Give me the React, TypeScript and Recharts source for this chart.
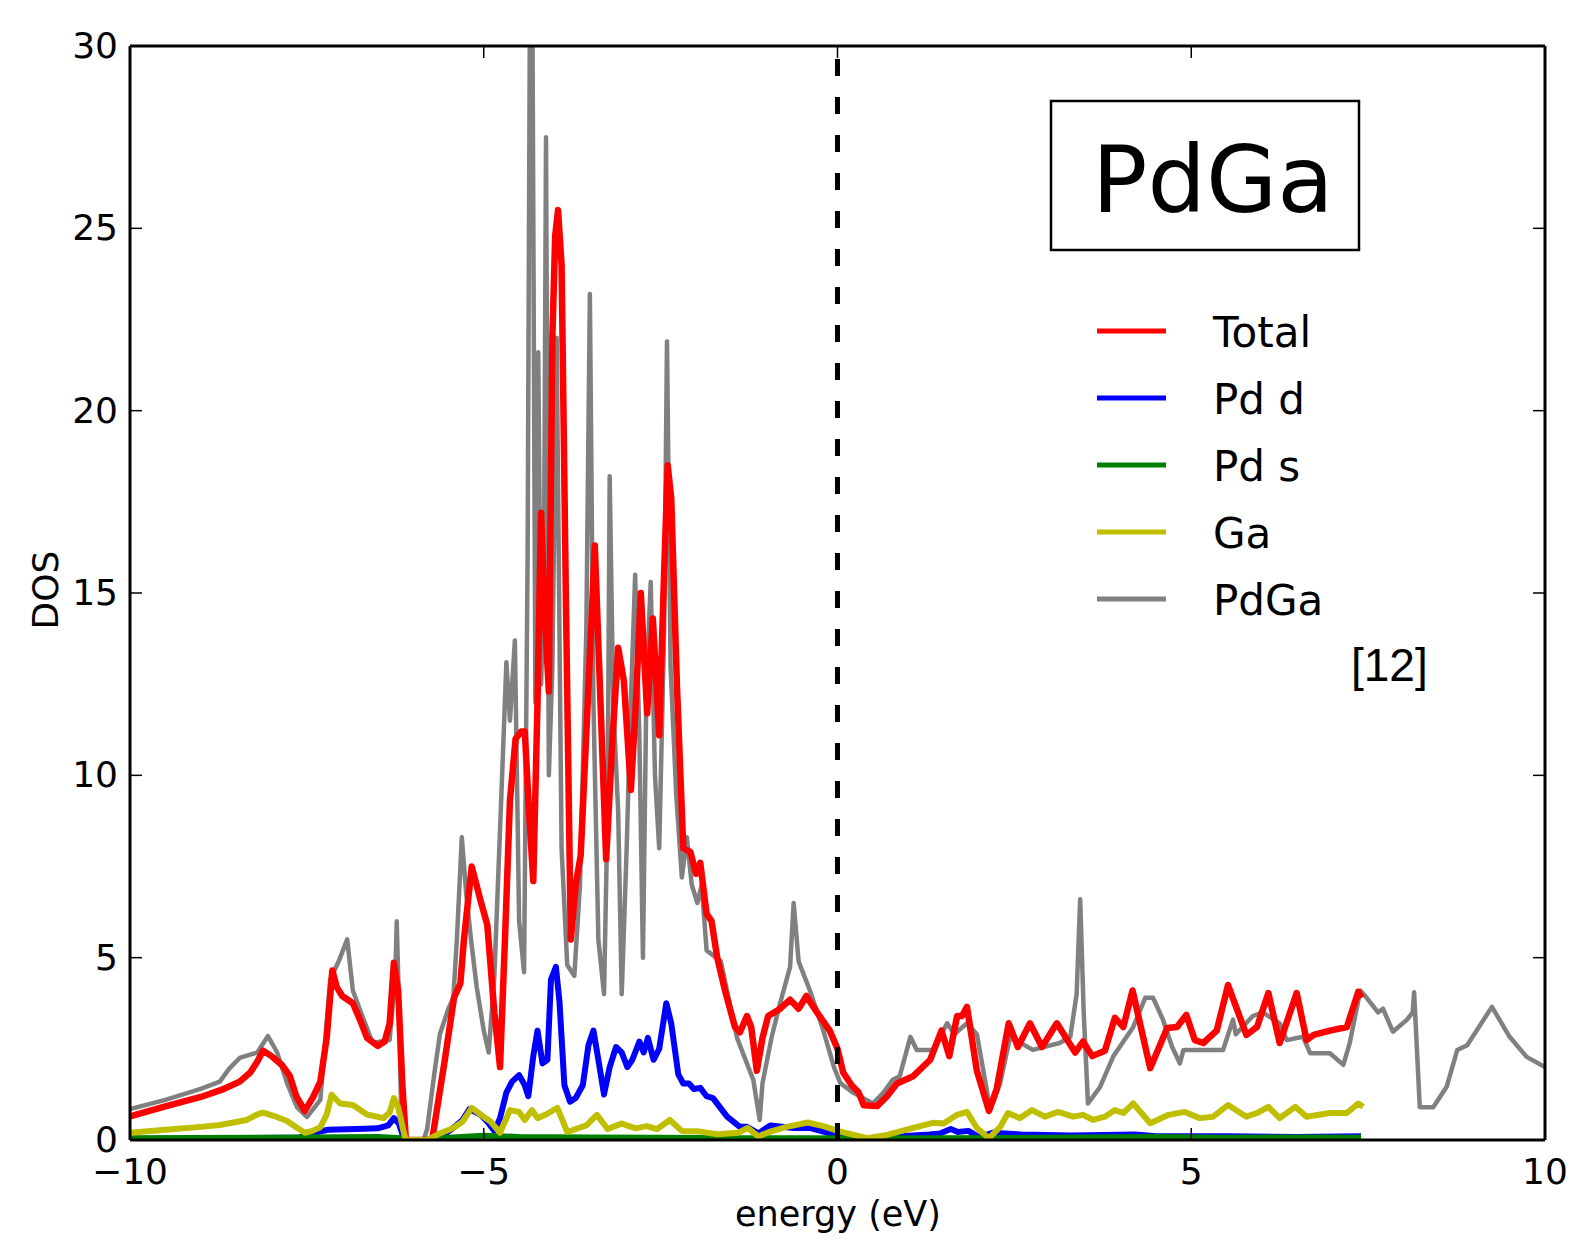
import { Line, LineChart, ReferenceLine, XAxis, YAxis } from "recharts";

const W = 1573;
const H = 1247;
const FONT = "'DejaVu Sans', sans-serif";

const xTicks = [-10, -5, 0, 5, 10];
const yTicks = [0, 5, 10, 15, 20, 25, 30];

// Total
const totalE = [
  -10, -9.5, -9, -8.7, -8.45, -8.3, -8.2, -8.12, -8.0, -7.85, -7.74, -7.65, -7.53, -7.42, -7.31, -7.22,
  -7.14, -7.08, -7.0, -6.85, -6.75, -6.65, -6.5, -6.4, -6.33, -6.27, -6.21, -6.15, -6.1, -5.73, -5.55,
  -5.42, -5.33, -5.28, -5.17, -5.05, -4.95, -4.85, -4.77, -4.7, -4.63, -4.55, -4.47, -4.42, -4.36, -4.3,
  -4.24, -4.19, -4.14, -4.08, -4.03, -3.99, -3.95, -3.9, -3.84, -3.77, -3.7, -3.63, -3.53, -3.43, -3.35,
  -3.27, -3.18, -3.1, -3.02, -2.92, -2.85, -2.78, -2.69, -2.61, -2.52, -2.46, -2.4, -2.35, -2.27, -2.18,
  -2.08, -2.0, -1.94, -1.85, -1.78, -1.7, -1.59, -1.45, -1.38, -1.28, -1.22, -1.14, -1.06, -0.98, -0.81,
  -0.67, -0.55, -0.44, -0.29, -0.11, 0, 0.08, 0.2, 0.3, 0.37, 0.56, 0.7, 0.84, 1.07, 1.31, 1.47, 1.58,
  1.69, 1.76, 1.83, 1.97, 2.14, 2.25, 2.42, 2.55, 2.72, 2.89, 3.1, 3.36, 3.47, 3.6, 3.78, 3.92, 4.04,
  4.17, 4.42, 4.66, 4.8, 4.93, 5.05, 5.17, 5.36, 5.52, 5.78, 5.93, 6.09, 6.25, 6.49, 6.63, 6.73, 6.96,
  7.2, 7.36, 7.41
];
const totalDos = [
  0.65, 0.92, 1.18, 1.38, 1.6, 1.85, 2.15, 2.45, 2.3, 2.05, 1.75, 1.2, 0.8, 1.15, 1.6, 2.8,
  4.65, 4.2, 3.95, 3.75, 3.3, 2.8, 2.58, 2.7, 3.2, 4.86, 4.1, 1.5, 0, 0, 2.2,
  3.9, 4.3, 5.5, 7.5, 6.6, 5.9, 3.5, 2.0, 5.5, 9.3, 11.0, 11.2, 11.2, 9.0, 7.1,
  12, 17.2, 14.5, 12.3, 22, 24.8, 25.5, 24.0, 15, 5.5, 7.0, 7.8, 12, 16.3, 12,
  7.7, 11, 13.5, 12.6, 9.6, 12, 15.0, 11.7, 14.3, 11.1, 15, 18.5, 17.6, 12.5, 8.0,
  7.9, 7.3, 7.6, 6.2, 6.0, 5.0, 4.1, 3.1, 2.95, 3.4, 3.1, 1.9, 2.8, 3.4, 3.6,
  3.85, 3.6, 3.95, 3.5, 3.0, 2.5, 1.85, 1.5, 1.3, 0.95, 0.93, 1.2, 1.55, 1.75, 2.2, 3.0, 2.3,
  3.4, 3.4, 3.65, 1.9, 0.8, 1.4, 3.2, 2.55, 3.2, 2.55, 3.2, 2.4, 2.7, 2.3, 2.45, 3.35, 3.1,
  4.1, 1.97, 3.07, 3.1, 3.43, 2.74, 2.66, 3.0, 4.25, 2.88, 3.1, 4.03, 2.66, 4.03, 2.74, 2.88, 3.0,
  3.1, 4.06, 3.9
];

// Pd d
const pdDE = [
  -10, -8.5, -7.6, -7.4, -7.2, -6.8, -6.5, -6.35, -6.27, -6.2, -6.12, -5.8, -5.6, -5.45, -5.3, -5.2,
  -5.05, -4.95, -4.85, -4.77, -4.68, -4.6, -4.5, -4.42, -4.37, -4.3, -4.24, -4.17, -4.1, -4.05, -3.98,
  -3.93, -3.86, -3.78, -3.7, -3.6, -3.52, -3.45, -3.38, -3.3, -3.22, -3.13, -3.05, -2.97, -2.9, -2.8,
  -2.74, -2.68, -2.6, -2.52, -2.42, -2.35, -2.25, -2.18, -2.1, -2.03, -1.94, -1.85, -1.76, -1.56, -1.38,
  -1.28, -1.12, -0.95, -0.62, -0.39, -0.15, 0, 0.4, 0.9, 1.3, 1.45, 1.6, 1.7, 1.85, 2.0, 2.2, 2.6, 3.3,
  4.2, 4.5, 5.5, 6.5, 7.4
];
const pdDDos = [
  0.03, 0.05, 0.07, 0.2, 0.28, 0.3, 0.32, 0.4, 0.6, 0.45, 0, 0, 0.1, 0.3, 0.55, 0.85,
  0.7, 0.5, 0.25, 0.6, 1.3, 1.6, 1.78, 1.5, 1.2, 2.3, 3.0, 2.1, 2.2, 4.4, 4.75,
  3.8, 1.5, 1.05, 1.15, 1.5, 2.6, 3.0, 2.2, 1.25, 2.0, 2.55, 2.4, 2.0, 2.2, 2.7,
  2.4, 2.8, 2.2, 2.5, 3.75, 3.2, 1.8, 1.55, 1.55, 1.4, 1.43, 1.2, 1.15, 0.64, 0.36,
  0.36, 0.18, 0.4, 0.33, 0.33, 0.2, 0.1, 0.05, 0.1, 0.15, 0.18, 0.3, 0.22, 0.25, 0.08, 0.2, 0.15, 0.12,
  0.15, 0.1, 0.1, 0.08, 0.1
];

// Pd s
const pdSE = [-10, -8, -6.5, -6.15, -6.1, -5.8, -5.5, -5.0, -4.5, -3.5, -2.5, -1.5, -0.5, 0.5, 1.5, 3, 4.5, 5.5, 6.5, 7.4];
const pdSDos = [0.05, 0.06, 0.08, 0.05, 0, 0, 0.06, 0.12, 0.08, 0.07, 0.06, 0.05, 0.05, 0.04, 0.05, 0.06, 0.08, 0.06, 0.07, 0.06];

// Ga
const gaE = [
  -10, -9.5, -9, -8.73, -8.35, -8.2, -8.12, -7.95, -7.78, -7.65, -7.53, -7.42, -7.31, -7.22, -7.15, -7.03,
  -6.85, -6.65, -6.42, -6.33, -6.27, -6.21, -6.13, -6.1, -5.8, -5.62, -5.43, -5.3, -5.17, -5.05, -4.9,
  -4.77, -4.63, -4.5, -4.42, -4.32, -4.24, -4.12, -3.96, -3.82, -3.55, -3.4, -3.25, -3.05, -2.85, -2.7,
  -2.55, -2.37, -2.2, -1.94, -1.7, -1.4, -1.27, -1.12, -0.95, -0.72, -0.42, -0.2, 0.04, 0.42, 0.7, 1.07,
  1.35, 1.5, 1.69, 1.83, 1.97, 2.14, 2.3, 2.41, 2.58, 2.75, 2.93, 3.12, 3.33, 3.47, 3.61, 3.78, 3.92,
  4.04, 4.18, 4.42, 4.68, 4.91, 5.12, 5.31, 5.52, 5.78, 5.93, 6.09, 6.25, 6.47, 6.63, 6.96, 7.2, 7.36, 7.43
];
const gaDos = [
  0.2, 0.28, 0.36, 0.41, 0.55, 0.7, 0.75, 0.65, 0.52, 0.35, 0.2, 0.25, 0.35, 0.7, 1.24, 1.0,
  0.96, 0.7, 0.6, 0.75, 1.15, 0.9, 0.2, 0, 0, 0.18, 0.33, 0.5, 0.88, 0.7, 0.5,
  0.2, 0.82, 0.77, 0.55, 0.82, 0.6, 0.7, 0.88, 0.22, 0.4, 0.69, 0.3, 0.45, 0.32, 0.38,
  0.3, 0.55, 0.25, 0.23, 0.16, 0.2, 0.33, 0.1, 0.23, 0.36, 0.48, 0.38, 0.23, 0.05, 0.14, 0.33,
  0.47, 0.45, 0.69, 0.77, 0.33, 0.05, 0.36, 0.74, 0.6, 0.82, 0.64, 0.77, 0.64, 0.69, 0.55, 0.64, 0.82,
  0.74, 1.0, 0.46, 0.69, 0.77, 0.6, 0.64, 0.96, 0.64, 0.74, 0.91, 0.6, 0.91, 0.64, 0.74, 0.74, 1.0, 0.91
];

// PdGa reference
const refE = [
  -10, -9.5, -9, -8.73, -8.6, -8.45, -8.2, -8.05, -7.92, -7.78, -7.64, -7.5, -7.31, -7.17, -7.05, -6.93,
  -6.85, -6.75, -6.57, -6.33, -6.25, -6.23, -6.2, -6.16, -5.85, -5.8, -5.7, -5.62, -5.5, -5.43, -5.38,
  -5.31, -5.25, -5.18, -5.1, -5.0, -4.93, -4.85, -4.75, -4.68, -4.63, -4.56, -4.5, -4.43, -4.38, -4.35,
  -4.31, -4.27, -4.23, -4.19, -4.15, -4.12, -4.08, -4.03, -3.97, -3.9, -3.82, -3.72, -3.64, -3.55, -3.5,
  -3.45, -3.38, -3.3, -3.25, -3.22, -3.17, -3.1, -3.05, -2.98, -2.93, -2.86, -2.8, -2.75, -2.7, -2.64,
  -2.58, -2.52, -2.45, -2.41, -2.36, -2.28, -2.2, -2.13, -2.06, -1.98, -1.92, -1.85, -1.65, -1.42, -1.19,
  -1.1, -1.06, -0.93, -0.81, -0.67, -0.62, -0.55, -0.39, -0.2, -0.05, 0.04, 0.22, 0.5, 0.65, 0.78, 0.88,
  1.03, 1.12, 1.35, 1.55, 1.65, 1.83, 1.97, 2.16, 2.3, 2.44, 2.76, 3.14, 3.29, 3.38, 3.43, 3.48, 3.54,
  3.71, 3.9, 4.18, 4.35, 4.46, 4.6, 4.73, 4.84, 4.89, 5.12, 5.45, 5.59, 5.63, 5.87, 6.01, 6.25, 6.35,
  6.58, 6.68, 6.96, 7.15, 7.24, 7.39, 7.48, 7.64, 7.71, 7.85, 8.05, 8.13, 8.15, 8.23, 8.42, 8.61, 8.76,
  8.9, 9.25, 9.5, 9.74, 10
];
const refDos = [
  0.85, 1.1, 1.4, 1.6, 1.95, 2.25, 2.4, 2.85, 2.4, 1.56, 0.9, 0.63, 1.1, 4.4, 4.9, 5.5,
  4.1, 3.57, 2.66, 2.74, 4.5, 6.0, 3.8, 0, 0, 0.3, 1.8, 2.9, 3.6, 3.9, 5.5,
  8.3, 6.8, 5.5, 4.2, 3.0, 2.4, 4.5, 9.5, 13.1, 11.5, 13.7, 6.0, 4.6, 16, 30,
  30, 12, 21.6, 12.5, 15, 27.5, 10, 13, 22, 8, 4.8, 4.5, 7, 14, 23.2,
  12, 5.5, 4.0, 9, 18.2, 12, 9, 4.0, 8, 11.5, 15.5, 11, 5.0, 12.5, 15.3,
  10, 8, 14, 21.9, 13, 9.5, 7.2, 8.3, 7.0, 6.5, 7.0, 5.2, 4.9, 2.8, 1.65,
  0.55, 1.56, 2.83, 3.76, 4.75, 6.5, 4.9, 4.1, 3.0, 2.0, 1.56, 1.3, 1.0, 1.3, 1.65, 1.75,
  2.83, 2.47, 2.47, 3.2, 2.9, 3.2, 2.9, 0.82, 1.56, 2.83, 2.47, 2.66, 2.83, 4.0, 6.6, 3.5, 1.0,
  1.45, 2.3, 3.1, 3.9, 3.9, 3.3, 2.55, 2.1, 2.47, 2.47, 2.47, 3.3, 2.9, 3.4, 3.5, 3.2, 2.74,
  2.83, 2.38, 2.38, 2.06, 2.66, 4.1, 3.9, 3.5, 3.6, 2.97, 3.3, 3.5, 4.05, 0.9, 0.9, 1.46, 2.47,
  2.6, 3.65, 2.83, 2.28, 2.0
];

const zip = (es: number[], ds: number[]) => es.map((e, i) => ({ e, dos: ds[i] }));

// the reference curve is plotted against the top/right axes (same scales) so that frame gets drawn
const series = [
  { name: "PdGa", color: "#808080", width: 4.5, data: zip(refE, refDos), xId: "top", yId: "right" },
  { name: "Total", color: "#ff0000", width: 6.5, data: zip(totalE, totalDos), xId: 0, yId: 0 },
  { name: "Pd d", color: "#0000ff", width: 6, data: zip(pdDE, pdDDos), xId: 0, yId: 0 },
  { name: "Pd s", color: "#008000", width: 6, data: zip(pdSE, pdSDos), xId: 0, yId: 0 },
  { name: "Ga", color: "#bfbf00", width: 6, data: zip(gaE, gaDos), xId: 0, yId: 0 }
];

const legendOrder = ["Total", "Pd d", "Pd s", "Ga", "PdGa"];

const fmt = (v: number) => (v < 0 ? `\u2212${Math.abs(v)}` : `${v}`);

function BottomTick(props: any) {
  const { x, y, payload } = props;
  return (
    <g>
      <line x1={x} y1={y} x2={x} y2={y - 12} stroke="#000" strokeWidth={1.5} />
      <text x={x} y={y + 44} textAnchor="middle" fontSize={36} fontFamily={FONT} fill="#000">
        {fmt(payload.value)}
      </text>
    </g>
  );
}

function TopTick(props: any) {
  const { x, y } = props;
  return <line x1={x} y1={y} x2={x} y2={y + 12} stroke="#000" strokeWidth={1.5} />;
}

function LeftTick(props: any) {
  const { x, y, payload } = props;
  return (
    <g>
      <line x1={x} y1={y} x2={x + 12} y2={y} stroke="#000" strokeWidth={1.5} />
      <text x={x - 12} y={y + 12} textAnchor="end" fontSize={36} fontFamily={FONT} fill="#000">
        {payload.value}
      </text>
    </g>
  );
}

function RightTick(props: any) {
  const { x, y } = props;
  return <line x1={x} y1={y} x2={x - 12} y2={y} stroke="#000" strokeWidth={1.5} />;
}

export default function App() {
  const frame = { stroke: "#000", strokeWidth: 3 };
  return (
    <div style={{ position: "absolute", left: 0, top: 0, width: W, height: H, background: "#fff" }}>
      <LineChart width={W} height={H} margin={{ top: 45, right: 27, left: 0, bottom: 0 }}>
        <XAxis
          dataKey="e"
          type="number"
          domain={[-10, 10]}
          ticks={xTicks}
          allowDataOverflow
          height={107}
          axisLine={frame}
          tickLine={false}
          tickSize={0}
          tickMargin={0}
          tick={<BottomTick />}
          interval={0}
        />
        <XAxis
          xAxisId="top"
          orientation="top"
          dataKey="e"
          type="number"
          domain={[-10, 10]}
          ticks={xTicks}
          allowDataOverflow
          height={1}
          axisLine={frame}
          tickLine={false}
          tickSize={0}
          tickMargin={0}
          tick={<TopTick />}
          interval={0}
        />
        <YAxis
          type="number"
          domain={[0, 30]}
          ticks={yTicks}
          allowDataOverflow
          width={130}
          axisLine={frame}
          tickLine={false}
          tickSize={0}
          tickMargin={0}
          tick={<LeftTick />}
          interval={0}
        />
        <YAxis
          yAxisId="right"
          orientation="right"
          type="number"
          domain={[0, 30]}
          ticks={yTicks}
          allowDataOverflow
          width={1}
          axisLine={frame}
          tickLine={false}
          tickSize={0}
          tickMargin={0}
          tick={<RightTick />}
          interval={0}
        />
        {series.map((s) => (
          <Line
            key={s.name}
            data={s.data}
            dataKey="dos"
            name={s.name}
            xAxisId={s.xId}
            yAxisId={s.yId}
            type="linear"
            stroke={s.color}
            strokeWidth={s.width}
            strokeLinejoin="round"
            dot={false}
            activeDot={false}
            isAnimationActive={false}
          />
        ))}
        <ReferenceLine x={0} stroke="#000" strokeWidth={5} strokeDasharray="17 21" />
      </LineChart>

      <svg
        width={W}
        height={H}
        style={{ position: "absolute", left: 0, top: 0, pointerEvents: "none" }}
      >
        <text
          x={45}
          y={590}
          transform="rotate(-90 45 590)"
          textAnchor="middle"
          dominantBaseline="central"
          fontSize={36}
          fontFamily={FONT}
        >
          DOS
        </text>
        <text x={838} y={1226} textAnchor="middle" fontSize={35} fontFamily={FONT}>
          energy (eV)
        </text>
        <rect x={1051} y={101} width={308} height={149} fill="#fff" stroke="#000" strokeWidth={2.5} />
        <text x={1092} y={212} fontSize={92} fontFamily={FONT}>
          PdGa
        </text>
        {legendOrder.map((name, i) => {
          const s = series.find((d) => d.name === name)!;
          const cy = 331 + i * 67;
          return (
            <g key={name}>
              <line x1={1097} x2={1166} y1={cy} y2={cy} stroke={s.color} strokeWidth={5} />
              <text x={1213} y={cy + 16} fontSize={42} fontFamily={FONT}>
                {name}
              </text>
            </g>
          );
        })}
        <text x={1351} y={681} fontSize={46} fontFamily="'Liberation Sans', Arial, sans-serif">
          [12]
        </text>
      </svg>
    </div>
  );
}
